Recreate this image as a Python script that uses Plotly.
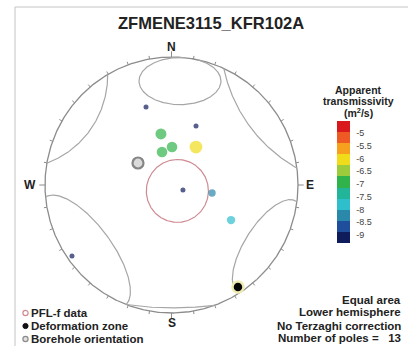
import numpy as np
import plotly.graph_objects as go

# ---------------- data ----------------
TITLE = "ZFMENE3115_KFR102A"

# PFL-f poles: trend / plunge (deg) and log10 apparent transmissivity (m2/s)
pfl_trend = [341.7, 22.8, 348.2, 343.8, 0.8, 33.1, 113.3, 101.0, 120.2, 234.8]
pfl_plunge = [36.0, 48.6, 56.5, 68.1, 65.8, 61.0, 82.0, 63.3, 44.7, 4.2]
pfl_logT = [-9.1, -9.1, -6.8, -6.95, -6.95, -6.1, -9.1, -8.2, -7.8, -9.1]

# deformation zone pole and borehole orientation
dz_trend, dz_plunge = [146.6], [5.1]
bh_trend, bh_plunge = [303.0], [64.2]

# cone (small circle) around the mean pole: trend, plunge, half-angle
cone_trend, cone_plunge, cone_angle = [135.0], [84.6], [20.0]

# zone outlines: ellipses (centre u, centre v, semi-axis a, semi-axis b, rotation deg)
zone_ellipses = [
    (0.067, 0.812, 0.324, 0.184, 0.0),
    (-0.684, -0.520, 0.528, 0.213, -53.2),
    (0.755, -0.484, 0.425, 0.177, 57.2),
]
# zone outlines meeting the primitive: (azimuth 1, azimuth 2, bulge)
zone_arcs = [
    (279.8, 329.7, 0.134),
    (24.4, 82.4, 0.105),
    (201.0, 160.0, -0.024),
]

cbar_tickvals = [-5, -5.5, -6, -6.5, -7, -7.5, -8, -8.5, -9]
cbar_ticktext = ["-5", "-5.5", "-6", "-6.5", "-7", "-7.5", "-8", "-8.5", "-9"]
T_MIN, T_MAX = -9.315, -4.535
band_colors = ["#0f1c5c", "#1f4f9c", "#2a88ab", "#2fbfcc", "#22b59a", "#2fb34a",
               "#9ccb3b", "#f1dc1c", "#f6a01e", "#ef5a24", "#d9191c"]

compass = [("N", 0, 1.078), ("E", 90, 1.095), ("S", 180, 1.078), ("W", 270, 1.119)]
legend_labels = ["PFL-f data", "Deformation zone", "Borehole orientation"]
info_lines = ["Equal area", "Lower hemisphere", "No Terzaghi correction",
              "Number of poles =\u00a0\u00a0\u00a013"]
cbar_title = ["Apparent", "transmissivity", "(m<sup>2</sup>/s)"]

# ---------------- helpers ----------------
W, H = 408, 346
CX, CY, RX, RY = 171.5, 185.0, 126.5, 128.0


def px(x):
    return x / W


def py(y):
    return 1 - y / H


def proj(trend, plunge):
    t = np.radians(np.asarray(trend, float))
    p = np.radians(np.asarray(plunge, float))
    e, n, d = np.cos(p) * np.sin(t), np.cos(p) * np.cos(t), np.sin(p)
    s = np.sqrt(1 + d)
    return e / s, n / s


def small_circle(trend, plunge, alpha, n=361):
    t, p, a = np.radians(trend), np.radians(plunge), np.radians(alpha)
    ax = np.array([np.cos(p) * np.sin(t), np.cos(p) * np.cos(t), np.sin(p)])
    ref = np.array([0, 0, 1.0]) if abs(ax[2]) < 0.9 else np.array([1.0, 0, 0])
    b1 = np.cross(ax, ref); b1 /= np.linalg.norm(b1)
    b2 = np.cross(ax, b1)
    ph = np.linspace(0, 2 * np.pi, n)
    pts = np.cos(a) * ax[:, None] + np.sin(a) * (np.cos(ph) * b1[:, None] + np.sin(ph) * b2[:, None])
    pts = np.where(pts[2] < 0, -pts, pts)
    s = np.sqrt(1 + pts[2])
    return pts[0] / s, pts[1] / s


def clip(x, y):
    xs, ys = [], []
    for xi, yi in zip(x, y):
        if xi * xi + yi * yi <= 1.0:
            xs.append(xi); ys.append(yi)
        elif xs and xs[-1] is not None:
            xs.append(None); ys.append(None)
    return xs, ys


def ellipse(cu, cv, a, b, ang, n=500):
    t = np.linspace(0, 2 * np.pi, n)
    ca, sa = np.cos(np.radians(ang)), np.sin(np.radians(ang))
    x = cu + a * np.cos(t) * ca - b * np.sin(t) * sa
    y = cv + a * np.cos(t) * sa + b * np.sin(t) * ca
    return clip(x, y)


def rim_arc(az1, az2, bulge, n=200):
    p1 = np.array([np.sin(np.radians(az1)), np.cos(np.radians(az1))])
    p2 = np.array([np.sin(np.radians(az2)), np.cos(np.radians(az2))])
    m = (p1 + p2) / 2
    nrm = -m / np.linalg.norm(m)
    apex = m + bulge * nrm
    ax_, ay_ = p1; bx_, by_ = apex; cx_, cy_ = p2
    d = 2 * (ax_ * (by_ - cy_) + bx_ * (cy_ - ay_) + cx_ * (ay_ - by_))
    ux = ((ax_**2 + ay_**2) * (by_ - cy_) + (bx_**2 + by_**2) * (cy_ - ay_) + (cx_**2 + cy_**2) * (ay_ - by_)) / d
    uy = ((ax_**2 + ay_**2) * (cx_ - bx_) + (bx_**2 + by_**2) * (ax_ - cx_) + (cx_**2 + cy_**2) * (bx_ - ax_)) / d
    r = np.hypot(ax_ - ux, ay_ - uy)
    t1 = np.arctan2(ay_ - uy, ax_ - ux)
    ta = np.arctan2(by_ - uy, bx_ - ux)
    t2 = np.arctan2(cy_ - uy, cx_ - ux)
    d12 = (t2 - t1) % (2 * np.pi)
    d1a = (ta - t1) % (2 * np.pi)
    span = d12 if d1a < d12 else d12 - 2 * np.pi
    tt = t1 + np.linspace(0, 1, n) * span
    return list(ux + r * np.cos(tt)), list(uy + r * np.sin(tt))


fig = go.Figure()

# primitive circle
th = np.linspace(0, 2 * np.pi, 721)
fig.add_trace(go.Scatter(x=np.cos(th), y=np.sin(th), mode="lines",
                         line=dict(color="#8c8c8c", width=1.3), hoverinfo="skip"))

# rim ticks
tx, ty = [], []
for az in range(0, 360, 10):
    L = 0.045 if az % 90 == 0 else 0.024
    s, c = np.sin(np.radians(az)), np.cos(np.radians(az))
    tx += [s, (1 + L) * s, None]
    ty += [c, (1 + L) * c, None]
fig.add_trace(go.Scatter(x=tx, y=ty, mode="lines", line=dict(color="#8c8c8c", width=1),
                         hoverinfo="skip"))

# zone outlines
zx, zy = [], []
for e in zone_ellipses:
    x, y = ellipse(*e)
    zx += x + [None]; zy += y + [None]
for a in zone_arcs:
    x, y = rim_arc(*a)
    zx += x + [None]; zy += y + [None]
fig.add_trace(go.Scatter(x=zx, y=zy, mode="lines", line=dict(color="#a6a6a6", width=1.2),
                         hoverinfo="skip"))

# cone around mean pole
for t, p, a in zip(cone_trend, cone_plunge, cone_angle):
    cx_, cy_ = small_circle(t, p, a)
    fig.add_trace(go.Scatter(x=cx_, y=cy_, mode="lines", line=dict(color="#cf8a92", width=1.2),
                             hoverinfo="skip"))

# borehole orientation
bu, bv = proj(bh_trend, bh_plunge)
fig.add_trace(go.Scatter(x=bu, y=bv, mode="markers",
                         marker=dict(size=11, color="#dadada", line=dict(color="#858585", width=2.2))))

# PFL-f poles coloured by transmissivity
colorscale = []
nb = len(band_colors)
for i, c in enumerate(band_colors):
    colorscale += [[i / nb, c], [(i + 1) / nb, c]]
pu, pv = proj(pfl_trend, pfl_plunge)
sizes = [5 + (t + 9.1) * 2.6 for t in pfl_logT]
fig.add_trace(go.Scatter(
    x=pu, y=pv, mode="markers",
    marker=dict(size=sizes, color=pfl_logT, colorscale=colorscale, cmin=T_MIN, cmax=T_MAX,
                line=dict(width=0), showscale=True,
                colorbar=dict(x=px(337), xanchor="left", y=py(182), yanchor="middle",
                              len=(243 - 121) / H, lenmode="fraction", thickness=13,
                              outlinewidth=0, xpad=0, ypad=0,
                              tickvals=cbar_tickvals, ticktext=cbar_ticktext,
                              ticks="outside", ticklen=5, tickcolor="rgba(0,0,0,0)",
                              tickfont=dict(family="Liberation Sans", size=9, color="#444444")))))

# deformation zone pole
du, dv = proj(dz_trend, dz_plunge)
fig.add_trace(go.Scatter(x=du, y=dv, mode="markers",
                         marker=dict(size=11, color="#050505", line=dict(color="#eeeab2", width=2.5))))

annotations = []
bold = dict(family="Liberation Sans", color="#222222", weight="bold")


def note(text, x, y, size, xanchor="center", xref="paper", yref="paper"):
    annotations.append(dict(text=text, x=x, y=y, xref=xref, yref=yref, xanchor=xanchor,
                            yanchor="middle", showarrow=False, borderpad=0,
                            font=dict(bold, size=size)))


note(TITLE, px(211), py(23), 16.5)
for lab, az, r in compass:
    note(lab, r * np.sin(np.radians(az)), r * np.cos(np.radians(az)), 12, xref="x", yref="y")
for i, t in enumerate(cbar_title):
    note(t, px(358.5), py(90 + 11 * i), 10.5)
for i, t in enumerate(info_lines):
    note(t, px(402), py([300, 312, 326, 338][i]), 11.5, xanchor="right")

shapes = []
sym_styles = [dict(line=dict(color="#d08a90", width=1.2), fillcolor="white"),
              dict(line=dict(color="#111111", width=1), fillcolor="#111111"),
              dict(line=dict(color="#8a8a8a", width=1.2), fillcolor="#e0e0e0")]
for i, t in enumerate(legend_labels):
    yy = [313, 326, 339][i]
    note(t, px(30), py(yy), 11.5, xanchor="left")
    shapes.append(dict(type="circle", xref="paper", yref="paper", xsizemode="pixel",
                       ysizemode="pixel", xanchor=px(25.5), yanchor=py(yy),
                       x0=-2.6, x1=2.6, y0=-2.6, y1=2.6, layer="above", **sym_styles[i]))

shapes.append(dict(type="rect", xref="paper", yref="paper", x0=px(15), x1=1.1,
                   y0=-0.1, y1=py(7), line=dict(color="#c4c4c4", width=1), layer="below"))

fig.update_layout(
    width=W, height=H, autosize=False, margin=dict(l=0, r=0, t=0, b=0),
    paper_bgcolor="white", plot_bgcolor="white", showlegend=False,
    xaxis=dict(range=[-CX / RX, (W - CX) / RX], visible=False, fixedrange=True),
    yaxis=dict(range=[-(H - CY) / RY, CY / RY], visible=False, fixedrange=True),
    annotations=annotations, shapes=shapes,
)

fig.write_html("out.html", config={"displayModeBar": False},
               post_script="document.body.style.margin='0';document.body.style.overflow='hidden';")
